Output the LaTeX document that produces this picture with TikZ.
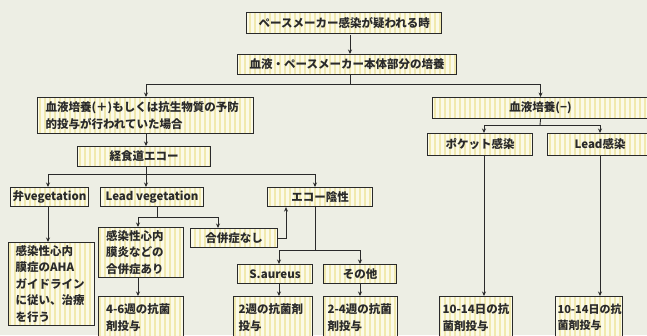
\documentclass[tikz,border=0pt]{standalone}
\usepackage{fontspec}
\setmainfont{Noto Sans CJK JP}
\usetikzlibrary{arrows.meta,patterns.meta}
\definecolor{bg}{HTML}{EDEEE4}
\definecolor{boxfill}{HTML}{FBFAE8}
\definecolor{stripe}{HTML}{F1E9AE}
\definecolor{ink}{HTML}{2A2A2A}
\begin{document}
\begin{tikzpicture}[x=1pt,y=-1pt,
  box/.style={draw=ink, line width=1.1pt, preaction={fill=boxfill},
    pattern={Lines[angle=90,distance=5pt,line width=1.6pt]}, pattern color=stripe,
    inner sep=0pt, font=\bfseries\fontsize{11.5}{16.5}\selectfont, text=ink, anchor=north west},
  mbox/.style={box, align=left},
  arr/.style={draw=ink, line width=0.9pt, -{Stealth[length=4.5pt,width=4pt]}},
  ln/.style={draw=ink, line width=0.9pt}]
\fill[bg] (0,0) rectangle (647,335);
\useasboundingbox (0,0) rectangle (647,335);
\clip (0,0) rectangle (647,335);

\node[box, minimum width=195pt, minimum height=21pt] (A) at (246,12) {ペースメーカー感染が疑われる時};
\node[box, minimum width=219pt, minimum height=20pt] (B) at (237,54) {血液・ペースメーカー本体部分の培養};
\node[mbox, text width=200pt, inner xsep=8pt, minimum height=36pt] (C) at (37,97) {血液培養(＋)もしくは抗生物質の予防\\的投与が行われていた場合};
\node[box, minimum width=216pt, minimum height=21pt] (D) at (432,97) {血液培養(−)};
\node[box, minimum width=105pt, minimum height=22pt] (E) at (427,133) {ポケット感染};
\node[box, minimum width=105pt, minimum height=22pt] (F) at (547,133) {Lead感染};
\node[box, minimum width=133pt, minimum height=20pt] (G) at (77,146) {経食道エコー};
\node[box, minimum width=78pt, minimum height=19pt] (H) at (10,187) {弁vegetation};
\node[box, minimum width=103pt, minimum height=19pt] (I) at (100,187) {Lead vegetation};
\node[box, minimum width=105pt, minimum height=19pt] (J) at (267,187) {エコー陰性};
\node[mbox, text width=72pt, inner xsep=7pt, minimum height=83pt] (K) at (8,242) {感染性心内\\膜症のAHA\\ガイドライン\\に従い、治療\\を行う};
\node[mbox, text width=70pt, inner xsep=7.5pt, minimum height=50pt] (L) at (98,227) {感染性心内\\膜炎などの\\合併症あり};
\node[box, minimum width=87pt, minimum height=19pt] (M) at (190,228) {合併症なし};
\node[box, minimum width=75pt, minimum height=19pt] (N) at (237,264) {S.aureus};
\node[box, minimum width=73pt, minimum height=19pt] (O) at (323,264) {その他};
\node[mbox, text width=70pt, inner xsep=7.5pt, minimum height=42pt] (P) at (98,296) {4-6週の抗菌\\剤投与};
\node[mbox, text width=69pt, inner xsep=5pt, minimum height=42pt] (Q) at (233,296) {2週の抗菌剤\\投与};
\node[mbox, text width=66pt, inner xsep=4pt, minimum height=42pt] (R) at (323,296) {\mbox{2-4週の抗菌}\\剤投与};
\node[mbox, text width=67pt, inner xsep=3pt, minimum height=42pt] (S) at (439,296) {\mbox{10-14日の抗}\\菌剤投与};
\node[mbox, text width=63pt, inner xsep=2pt, minimum height=42pt, font=\bfseries\fontsize{11}{16.5}\selectfont] (T) at (555,296) {\mbox{10-14日の抗}\\菌剤投与};

\coordinate (xA) at (350,0);
\coordinate (s1) at (350,84);
\coordinate (s2) at (540,125);
\coordinate (xE) at (484,0);
\coordinate (xF) at (600,0);
\coordinate (xC) at (146,0);
\coordinate (s3) at (146,174);
\coordinate (xH) at (48,0);
\coordinate (xJ) at (315,0);
\coordinate (xI) at (157,0);
\coordinate (s4) at (157,217);
\coordinate (xL) at (138,0);
\coordinate (xM) at (218,0);
\coordinate (xK) at (286,0);
\coordinate (s5) at (315,250);
\coordinate (xN) at (279,0);
\coordinate (xO) at (360,0);

\draw[arr] (A.south -| xA) -- (B.north -| xA);
\draw[ln] (B.south -| xA) -- (s1);
\draw[arr] (s1) -| (C.north -| xC);
\draw[arr] (s1) -| (D.north);
\draw[ln] (D.south) -- (s2);
\draw[arr] (s2) -| (E.north -| xE);
\draw[arr] (s2) -| (F.north -| xF);
\draw[arr] (E.south -| xE) -- (S.north -| xE);
\draw[arr] (F.south -| xF) -- (T.north -| xF);
\draw[arr] (C.south -| xC) -- (G.north -| xC);
\draw[arr] (G.south -| xC) -- (I.north -| xC);
\draw[arr] (s3) -| (H.north -| xH);
\draw[arr] (s3) -| (J.north -| xJ);
\draw[arr] (H.south -| xH) -- (K.north -| xH);
\draw[ln] (I.south -| xI) -- (s4);
\draw[arr] (s4) -| (L.north -| xL);
\draw[arr] (s4) -| (M.north -| xM);
\draw[arr] (M.east) -| (J.south -| xK);
\draw[ln] (J.south -| xJ) -- (s5);
\draw[arr] (s5) -| (N.north -| xN);
\draw[arr] (s5) -| (O.north -| xO);
\draw[arr] (L.south -| xL) -- (P.north -| xL);
\draw[arr] (N.south -| xN) -- (Q.north -| xN);
\draw[arr] (O.south -| xO) -- (R.north -| xO);
\end{tikzpicture}
\end{document}
